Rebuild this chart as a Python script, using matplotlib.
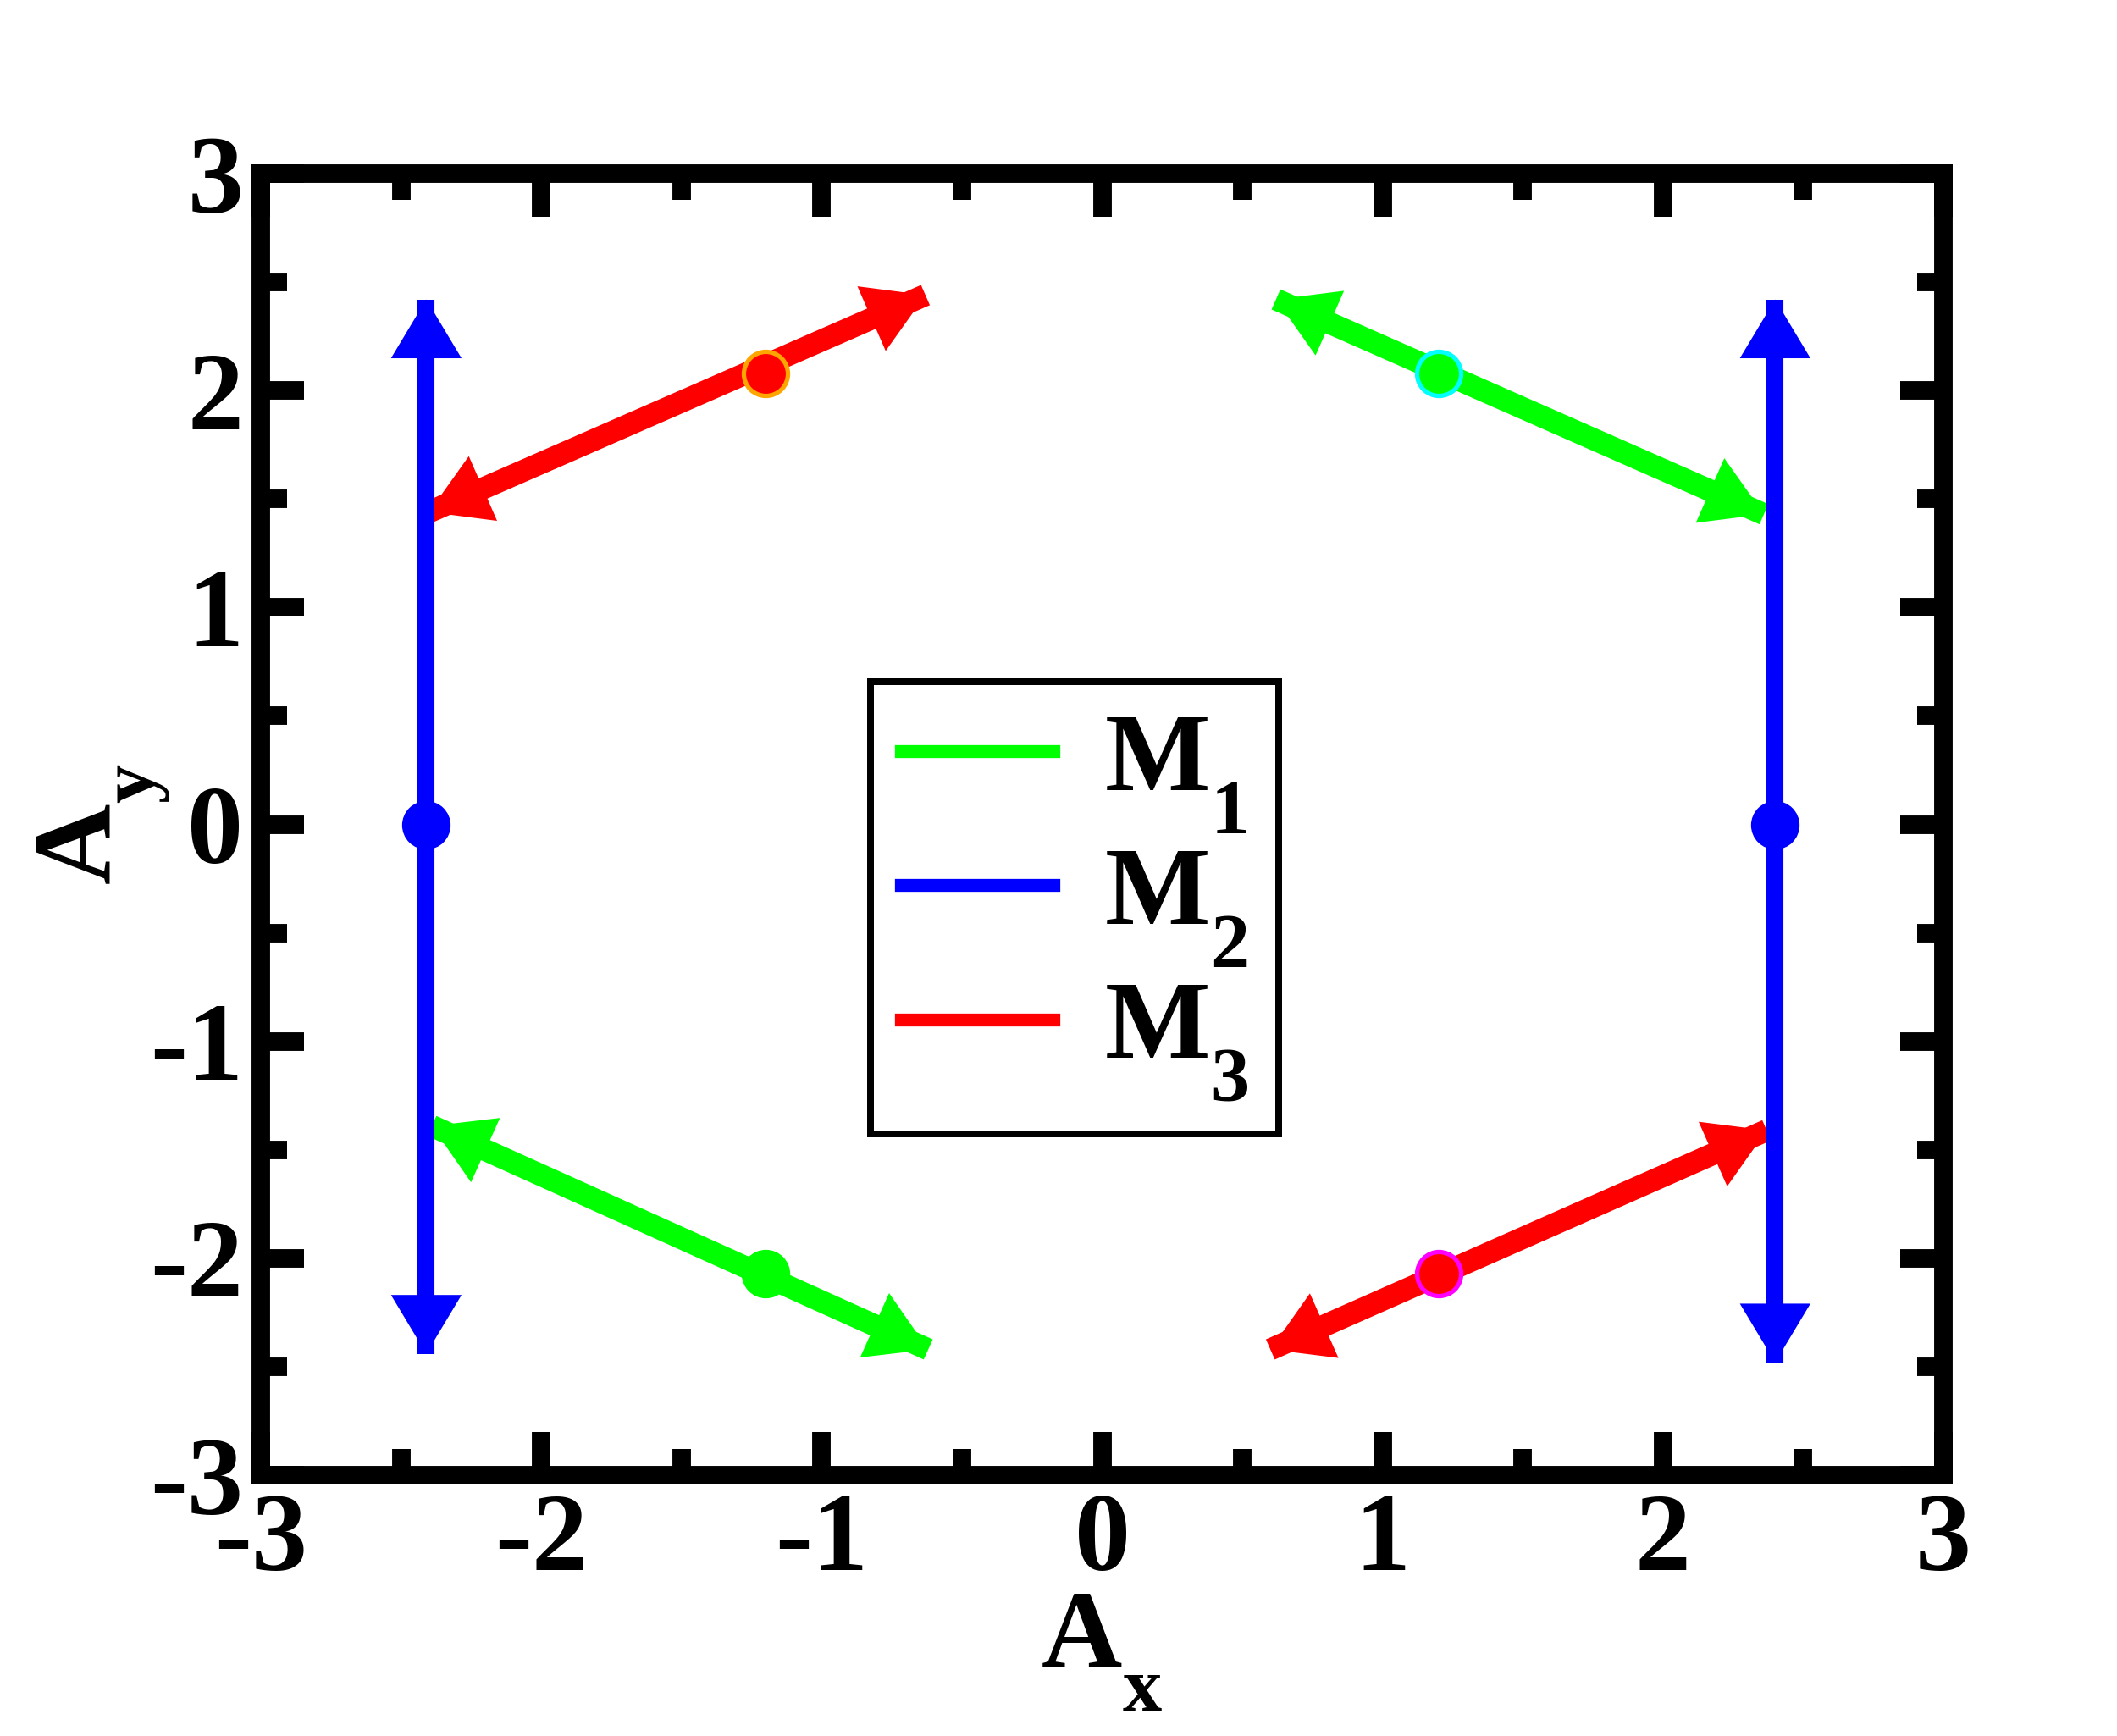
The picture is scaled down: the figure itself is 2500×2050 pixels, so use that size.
import matplotlib
matplotlib.use('Agg')
import matplotlib.pyplot as plt
import matplotlib._mathtext as mtext
from matplotlib.patches import FancyArrowPatch
from matplotlib.lines import Line2D
from matplotlib.ticker import MultipleLocator

plt.rcParams['font.family'] = 'Liberation Serif'
plt.rcParams['font.weight'] = 'bold'
plt.rcParams['mathtext.fontset'] = 'custom'
plt.rcParams['mathtext.rm'] = 'Liberation Serif:bold'
plt.rcParams['mathtext.it'] = 'Liberation Serif:bold'
plt.rcParams['mathtext.bf'] = 'Liberation Serif:bold'
plt.rcParams['mathtext.default'] = 'rm'
plt.rcParams['axes.unicode_minus'] = False
# grace-like subscripts sit much lower than mathtext's default
mtext.FontConstantsBase.sub1 = 0.85

# modes M1, M2, M3
labels = [r'$M_1$', r'$M_2$', r'$M_3$']
colors = ['#00ff00', '#0000ff', '#ff0000']

# displacement vectors: mode index, both arrow ends, M point and its dot edge colour
vec_mode = [2, 0, 0, 2, 1, 1]
vec_x0   = [-2.40, 0.62, -2.39, 0.60, -2.41, 2.40]
vec_y0   = [1.44, 2.42, -1.39, -2.42, -2.44, -2.48]
vec_x1   = [-0.63, 2.36, -0.62, 2.37, -2.41, 2.40]
vec_y1   = [2.44, 1.43, -2.42, -1.41, 2.42, 2.42]
dot_x    = [-1.20, 1.20, -1.20, 1.20, -2.41, 2.40]
dot_y    = [2.08, 2.08, -2.07, -2.07, 0.0, 0.0]
dot_edge = ['#ffa500', '#00ffff', '#00ff00', '#ff00ff', '#0000ff', '#0000ff']

fig = plt.figure(figsize=(10, 8.2), dpi=250)
ax = fig.add_axes([0.1232, 0.1502, 0.7948, 0.7498])

for i in range(len(vec_mode)):
	c  = colors[vec_mode[i]]
	lw = 5.8 if vec_mode[i] == 1 else 7.5
	z  = 3 + (vec_mode[i] == 1)
	ax.plot([vec_x0[i], vec_x1[i]], [vec_y0[i], vec_y1[i]],
			color=c, lw=lw, solid_capstyle='butt', zorder=z)
	arr = FancyArrowPatch((vec_x0[i], vec_y0[i]), (vec_x1[i], vec_y1[i]),
						  arrowstyle='<|-|>,head_length=20,head_width=12',
						  mutation_scale=1, lw=0, color=c,
						  shrinkA=0, shrinkB=0, zorder=z)
	ax.add_patch(arr)
	ax.plot(dot_x[i], dot_y[i], 'o', color=c, markersize=15,
			markeredgecolor=dot_edge[i], markeredgewidth=1.5, zorder=z)

ax.set_xlim(-3, 3)
ax.set_ylim(-3, 3)
ax.xaxis.set_major_locator(MultipleLocator(1))
ax.yaxis.set_major_locator(MultipleLocator(1))
ax.xaxis.set_minor_locator(MultipleLocator(0.5))
ax.yaxis.set_minor_locator(MultipleLocator(0.5))
ax.tick_params(which='both', direction='in', top=True, right=True,
			   width=6.3, labelsize=38, pad=6)
ax.tick_params(which='major', length=14.7)
ax.tick_params(which='minor', length=9)
for s in ax.spines.values():
	s.set_linewidth(6.3)

ax.set_xlabel(r'$A_x$', fontsize=38)
ax.set_ylabel(r'$A_y$', fontsize=38)
ax.xaxis.set_label_coords(0.5, -0.09)
ax.yaxis.set_label_coords(-0.053, 0.5)

handles = [Line2D([], [], color=c, lw=4.4) for c in colors]
leg = ax.legend(handles, labels, loc='center', bbox_to_anchor=(0.4837, 0.436),
				fontsize=38, fancybox=False, edgecolor='black', framealpha=1,
				handlelength=1.37, handletextpad=0.45, labelspacing=0.1,
				borderpad=0.27, borderaxespad=0)
leg.get_frame().set_linewidth(2.3)

plt.savefig('out.png', dpi=250)
